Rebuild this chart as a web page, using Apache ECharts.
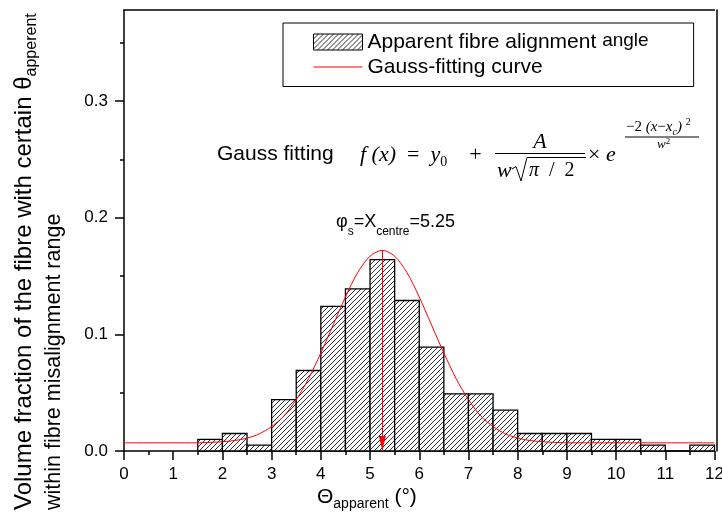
<!DOCTYPE html>
<html><head><meta charset="utf-8">
<script src="https://cdn.jsdelivr.net/npm/echarts@6/dist/echarts.min.js"></script>
<style>html,body{margin:0;padding:0;background:#fff}#c{width:722px;height:522px}</style>
</head><body><div id="c"></div>
<script>
// ---- data ----
const binStarts = [1.5, 2, 2.5, 3, 3.5, 4, 4.5, 5, 5.5, 6, 6.5, 7, 7.5, 8, 8.5, 9, 9.5, 10, 10.5, 11, 11.5];
const binWidth = 0.5;
const binValues = [0.010, 0.015, 0.005, 0.044, 0.069, 0.124, 0.139, 0.164, 0.129, 0.089, 0.049, 0.049, 0.035, 0.015, 0.015, 0.015, 0.010, 0.010, 0.005, 0, 0.005];
const curveX = [0, 0.25, 0.5, 0.75, 1, 1.25, 1.5, 1.75, 2, 2.25, 2.5, 2.75, 3, 3.25, 3.5, 3.75, 4, 4.25, 4.5, 4.75, 5, 5.25, 5.5, 5.75, 6, 6.25, 6.5, 6.75, 7, 7.25, 7.5, 7.75, 8, 8.25, 8.5, 8.75, 9, 9.25, 9.5, 9.75, 10, 10.25, 10.5, 10.75, 11, 11.25, 11.5, 11.75, 12];
const curveY = [0.007, 0.007, 0.007, 0.007, 0.007, 0.007, 0.007, 0.0074, 0.0079, 0.009, 0.011, 0.0147, 0.021, 0.030, 0.044, 0.062, 0.084, 0.108, 0.132, 0.153, 0.167, 0.172, 0.167, 0.153, 0.132, 0.108, 0.084, 0.062, 0.044, 0.030, 0.021, 0.0147, 0.011, 0.009, 0.0079, 0.0074, 0.007, 0.007, 0.007, 0.007, 0.007, 0.007, 0.007, 0.007, 0.007, 0.007, 0.007, 0.007, 0.007];
const centreX = 5.25;
const peakY = 0.172;
const yMajorTicks = [0, 0.1, 0.2, 0.3];
const yMinorTicks = [0.05, 0.15, 0.25, 0.35];
const seriesNames = ['Apparent fibre alignment angle', 'Gauss-fitting curve'];

// ---- hatch pattern ----
const tile = document.createElement('canvas');
tile.width = 5; tile.height = 5;
const tc = tile.getContext('2d');
tc.fillStyle = '#fff'; tc.fillRect(0, 0, 5, 5);
tc.strokeStyle = '#1a1a1a'; tc.lineWidth = 0.9;
tc.beginPath();
tc.moveTo(-1, 6); tc.lineTo(6, -1);
tc.moveTo(-1, 1); tc.lineTo(1, -1);
tc.moveTo(4, 6); tc.lineTo(6, 4);
tc.stroke();
const hatch = { image: tile, repeat: 'repeat' };

const SANS = 'Liberation Sans, Arial, sans-serif';
const SERIF = 'Liberation Serif, Times New Roman, serif';
const K = '#000';

function rs(size, lh, extra) {
  return Object.assign({ fontSize: size, lineHeight: lh, fontFamily: SANS, fill: K, color: K, verticalAlign: 'middle' }, extra || {});
}
function rf(size, lh, extra) {
  return Object.assign({ fontSize: size, lineHeight: lh, fontFamily: SERIF, fill: K, verticalAlign: 'middle' }, extra || {});
}

const chart = echarts.init(document.getElementById('c'), null, { renderer: 'canvas' });
chart.setOption({
  animation: false,
  backgroundColor: '#fff',
  grid: { left: 124, right: 7.5, top: 10, bottom: 71, outerBoundsMode: 'none', containLabel: false },
  legend: {
    orient: 'vertical', left: 283, top: 23,
    padding: [8, 45, 9, 30], itemGap: 4, itemWidth: 49, itemHeight: 16,
    borderColor: K, borderWidth: 1, selectedMode: false,
    textStyle: { fontSize: 21, color: K, fontFamily: SANS,
      rich: { a: rs(21, 22), b: rs(19, 22, { verticalAlign: 'top' }) } },
    formatter: function (name) {
      if (name === seriesNames[0]) {
        const cut = name.lastIndexOf(' ');
        return '{a|' + name.slice(0, cut + 1) + '}{b|' + name.slice(cut + 1) + '}';
      }
      return '{a|' + name + '}';
    },
    data: [
      { name: seriesNames[0], icon: 'rect', itemStyle: { color: hatch, borderColor: K, borderWidth: 1 } },
      { name: seriesNames[1], icon: 'path://M0,0H49V1H0Z', itemStyle: { color: '#ff0000', borderWidth: 0 } }
    ]
  },
  xAxis: [{
    type: 'value', min: 0, max: 12, interval: 1, position: 'bottom',
    axisLine: { show: true, onZero: false, lineStyle: { color: K, width: 1.5 } },
    axisTick: { show: true, inside: false, length: 9, lineStyle: { color: K, width: 1.5 } },
    minorTick: { show: true, splitNumber: 2, length: 4, lineStyle: { color: K, width: 1.5 } },
    axisLabel: { fontSize: 17, color: K, fontFamily: SANS, margin: 15 },
    splitLine: { show: false }
  }, {
    type: 'value', min: 0, max: 12, position: 'top',
    axisLine: { show: true, onZero: false, lineStyle: { color: K, width: 1.5 } },
    axisTick: { show: false }, axisLabel: { show: false }, splitLine: { show: false }
  }],
  yAxis: [{
    type: 'value', min: 0, max: 0.378, position: 'left',
    axisLine: { show: true, onZero: false, lineStyle: { color: K, width: 1.5 } },
    axisTick: { show: true, length: 9, customValues: yMajorTicks, lineStyle: { color: K, width: 1.5 } },
    axisLabel: { customValues: yMajorTicks, fontSize: 17, color: K, fontFamily: SANS, margin: 16,
      formatter: v => v.toFixed(1) },
    splitLine: { show: false }
  }, {
    type: 'value', min: 0, max: 0.378, position: 'left',
    axisLine: { show: false },
    axisTick: { show: true, length: 4, customValues: yMinorTicks, lineStyle: { color: K, width: 1.5 } },
    axisLabel: { show: false }, splitLine: { show: false }
  }, {
    type: 'value', min: 0, max: 0.378, position: 'right', offset: 2,
    axisLine: { show: true, onZero: false, lineStyle: { color: K, width: 1.5 } },
    axisTick: { show: false }, axisLabel: { show: false }, splitLine: { show: false }
  }],
  series: [{
    name: seriesNames[0],
    type: 'custom',
    xAxisIndex: 0, yAxisIndex: 0,
    itemStyle: { color: hatch, borderColor: K, borderWidth: 1 },
    encode: { x: [0, 1], y: 2 },
    data: binStarts.map((s, i) => [s, s + binWidth, binValues[i]]),
    renderItem: function (params, api) {
      const p0 = api.coord([api.value(0), api.value(2)]);
      const p1 = api.coord([api.value(1), 0]);
      return {
        type: 'rect',
        shape: { x: p0[0], y: p0[1], width: p1[0] - p0[0], height: p1[1] - p0[1] },
        style: { fill: hatch, stroke: K, lineWidth: 1.3 }
      };
    },
    z: 2
  }, {
    name: seriesNames[1],
    type: 'line',
    xAxisIndex: 0, yAxisIndex: 0,
    data: curveX.map((x, i) => [x, curveY[i]]),
    symbol: 'none', smooth: 0.3,
    lineStyle: { color: '#ff0000', width: 1 },
    itemStyle: { color: '#ff0000' },
    z: 3,
    markLine: {
      silent: true,
      symbol: ['none', 'path://M0,0M30,30M15,15L18.5,30L11.5,30Z'],
      symbolSize: 30,
      label: { show: false },
      itemStyle: { color: '#ff0000' },
      lineStyle: { color: '#ff0000', width: 1, type: 'solid' },
      emphasis: { disabled: true },
      data: [[{ coord: [centreX, peakY] }, { coord: [centreX, 0] }]]
    }
  }],
  graphic: [
    // y axis title (two lines)
    { type: 'text', x: 24, y: 510, rotation: Math.PI / 2,
      style: { text: '{m|Volume fraction of the fibre with certain θ}{s|apperent}', align: 'left', verticalAlign: 'middle',
        rich: { m: rs(24, 32), s: rs(16, 16, { verticalAlign: 'bottom' }) } } },
    { type: 'text', x: 54.5, y: 510, rotation: Math.PI / 2,
      style: { text: 'within fibre misalignment range', align: 'left', verticalAlign: 'middle',
        font: '21.5px ' + SANS, fill: K } },
    // x axis title
    { type: 'text', x: 317, y: 497,
      style: { text: '{m|Θ}{s|apparent}{m| (°)}', align: 'left', verticalAlign: 'middle',
        rich: { m: rs(21, 29), s: rs(14, 14, { verticalAlign: 'bottom' }) } } },
    // centre label
    { type: 'text', x: 336, y: 222.5,
      style: { text: '{m|φ}{s|s}{m|=X}{s|centre}{m|=5.25}', align: 'left', verticalAlign: 'middle',
        rich: { m: rs(18, 30), s: rs(12, 12, { verticalAlign: 'bottom' }) } } },
    // formula
    { type: 'text', x: 217, y: 154,
      style: { text: 'Gauss fitting', font: '21px ' + SANS, fill: K, align: 'left', verticalAlign: 'middle' } },
    { type: 'text', x: 360, y: 155,
      style: { text: '{i|f (x)  }{r|=  }{i|y}{s|0}{r|    +}', align: 'left', verticalAlign: 'middle',
        rich: { i: rf(22, 28, { fontStyle: 'italic' }), r: rf(22, 28), s: rf(14, 14, { verticalAlign: 'bottom' }) } } },
    { type: 'text', x: 540, y: 142,
      style: { text: 'A', font: 'italic 22px ' + SERIF, fill: K, align: 'center', verticalAlign: 'middle' } },
    { type: 'line', shape: { x1: 495, y1: 153.5, x2: 585, y2: 153.5 }, style: { stroke: K, lineWidth: 1 } },
    { type: 'text', x: 497, y: 171,
      style: { text: 'w', font: 'italic 22px ' + SERIF, fill: K, align: 'left', verticalAlign: 'middle' } },
    { type: 'polyline', shape: { points: [[512, 169], [516, 166.5], [521, 181], [527, 157.5], [586, 157.5]] },
      style: { stroke: K, lineWidth: 1, fill: null } },
    { type: 'text', x: 529, y: 171,
      style: { text: '{i|π}{r|  /  2}', align: 'left', verticalAlign: 'middle',
        rich: { i: rf(20, 22, { fontStyle: 'italic' }), r: rf(20, 22) } } },
    { type: 'text', x: 588, y: 155,
      style: { text: '{r|× }{i|e}', align: 'left', verticalAlign: 'middle',
        rich: { i: rf(22, 24, { fontStyle: 'italic' }), r: rf(22, 24) } } },
    { type: 'text', x: 626, y: 127,
      style: { text: '{r|−2 }{i|(x}{r|−}{i|x}{s|c}{i|) }{p|2}', align: 'left', verticalAlign: 'middle',
        rich: { i: rf(15, 20, { fontStyle: 'italic' }), r: rf(15, 20),
                s: rf(10, 10, { fontStyle: 'italic', verticalAlign: 'bottom' }),
                p: rf(10, 10, { verticalAlign: 'top' }) } } },
    { type: 'line', shape: { x1: 625, y1: 137, x2: 699, y2: 137 }, style: { stroke: K, lineWidth: 1 } },
    { type: 'text', x: 657, y: 145,
      style: { text: '{i|w}{p|2}', align: 'left', verticalAlign: 'middle',
        rich: { i: rf(13, 16, { fontStyle: 'italic' }), p: rf(9, 9, { verticalAlign: 'top' }) } } }
  ]
});
</script>
</body></html>
